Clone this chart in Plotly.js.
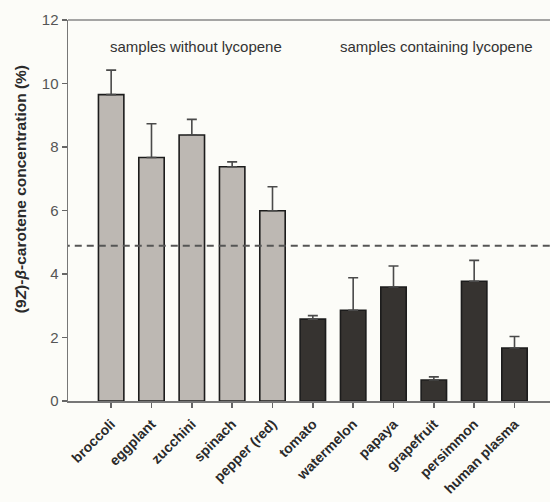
<!DOCTYPE html>
<html>
<head>
<meta charset="utf-8">
<script src="https://cdn.plot.ly/plotly-3.0.1.min.js"></script>
<style>
  html, body { margin: 0; padding: 0; background: #fcfcf8; }
  #chart { width: 550px; height: 502px; }
</style>
</head>
<body>
<div id="chart"></div>
<script>
// Sample names, in plotting order
const samples = ['broccoli', 'eggplant', 'zucchini', 'spinach', 'pepper (red)',
                 'tomato', 'watermelon', 'papaya', 'grapefruit', 'persimmon', 'human plasma'];
// Mean (9Z)-β-carotene share of total β-carotene, %
const meanPct = [9.65, 7.67, 8.38, 7.38, 5.99, 2.58, 2.86, 3.59, 0.66, 3.77, 1.67];
// Upper error (SD), %
const sdPct = [0.77, 1.06, 0.49, 0.15, 0.76, 0.11, 1.02, 0.66, 0.10, 0.66, 0.36];
// Whether the sample contains lycopene
const hasLycopene = [false, false, false, false, false, true, true, true, true, true, true];
// Reference level drawn as the dashed line, %
const referenceLevel = [4.89];
const yTicks = [0, 2, 4, 6, 8, 10, 12];

const fillColors = hasLycopene.map(h => h ? '#363330' : '#bdb8b3');

const bars = {
  type: 'bar',
  x: samples,
  y: meanPct,
  width: 0.63,
  marker: { color: fillColors, line: { color: '#1c1c1c', width: 1.6 } },
  error_y: {
    type: 'data',
    symmetric: false,
    array: sdPct,
    arrayminus: sdPct.map(() => 0),
    color: '#4a4a4a',
    thickness: 1.6,
    width: 5
  },
  hoverinfo: 'x+y'
};

const refLine = {
  type: 'scatter',
  mode: 'lines',
  x: [-1.2, 11.2],
  y: [referenceLevel[0], referenceLevel[0]],
  xaxis: 'x2',
  line: { color: '#555555', width: 2, dash: '7px,5px' },
  hoverinfo: 'skip'
};

const layout = {
  width: 550,
  height: 502,
  margin: { l: 68, r: 0, t: 20, b: 101 },
  paper_bgcolor: '#fcfcf8',
  plot_bgcolor: '#fcfcf8',
  showlegend: false,
  font: { family: 'Liberation Sans, Arial, sans-serif', color: '#333' },
  xaxis: {
    type: 'category',
    range: [-1.07, 10.88],
    tickangle: -45,
    ticks: 'outside',
    ticklen: 5,
    tickcolor: '#666',
    tickwidth: 1.5,
    ticklabelstandoff: 3,
    showline: true,
    linecolor: '#777',
    linewidth: 1.5,
    mirror: false,
    showgrid: false,
    zeroline: false,
    tickfont: { family: 'Liberation Sans, Arial, sans-serif', size: 14, color: '#2a2a2a', weight: 'bold' }
  },
  xaxis2: {
    range: [-1.07, 10.88],
    overlaying: 'x',
    visible: false
  },
  yaxis: {
    range: [0, 12],
    tickvals: yTicks,
    ticktext: yTicks.map(String),
    ticks: 'outside',
    ticklen: 5,
    tickcolor: '#666',
    tickwidth: 1.5,
    showline: true,
    linecolor: '#777',
    linewidth: 1.5,
    showgrid: false,
    zeroline: false,
    tickfont: { family: 'Liberation Sans, Arial, sans-serif', size: 15, color: '#555' }
  },
  shapes: [
    { type: 'line', xref: 'paper', yref: 'paper', x0: 0, x1: 1, y0: 1, y1: 1,
      line: { color: '#888', width: 1.5 } }
  ],
  annotations: [
    { text: '(9<i>Z</i>)-<i>β</i>-carotene concentration (%)', textangle: -90,
      xref: 'paper', yref: 'paper', x: -0.0996, y: 0.556, showarrow: false,
      xanchor: 'center', yanchor: 'middle',
      font: { size: 15.5, color: '#2a2a2a', weight: 'bold' } },
    { text: 'samples without lycopene', xref: 'x', yref: 'y', x: 2.1, y: 11.18,
      showarrow: false, font: { size: 15, color: '#333' } },
    { text: 'samples containing lycopene', xref: 'x', yref: 'y', x: 8.07, y: 11.18,
      showarrow: false, font: { size: 15, color: '#333' } }
  ]
};

Plotly.newPlot('chart', [bars, refLine], layout, { staticPlot: true, displayModeBar: false });
</script>
</body>
</html>
